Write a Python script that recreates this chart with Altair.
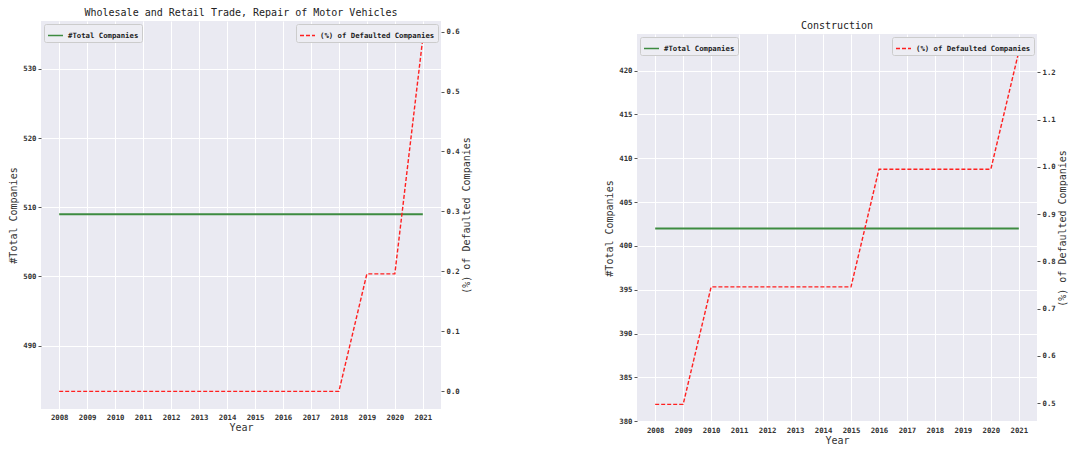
import altair as alt
import pandas as pd

years = list(range(2008, 2022))

wholesale_total = [509] * 14
wholesale_pct = [0.0, 0.0, 0.0, 0.0, 0.0, 0.0, 0.0, 0.0, 0.0, 0.0, 0.0, 0.196, 0.196, 0.589]

construction_total = [402] * 14
construction_pct = [0.4975, 0.4975, 0.746, 0.746, 0.746, 0.746, 0.746, 0.746,
                    0.995, 0.995, 0.995, 0.995, 0.995, 1.244]

TOTAL = "#Total Companies"
PCT = "(%) of Defaulted Companies"
MONO = "DejaVu Sans Mono"

wholesale_ticks_l = [490, 500, 510, 520, 530]
wholesale_ticks_r = [0.0, 0.1, 0.2, 0.3, 0.4, 0.5, 0.6]
construction_ticks_l = [380, 385, 390, 395, 400, 405, 410, 415, 420]
construction_ticks_r = [0.5, 0.6, 0.7, 0.8, 0.9, 1.0, 1.1, 1.2]


def panel(title, total, pct, dom_l, dom_r, ticks_l, ticks_r):
    df = pd.DataFrame({"Year": years, "total": total, "pct": pct,
                       "s1": TOTAL, "s2": PCT})
    x = alt.X("Year:Q", title="Year",
              scale=alt.Scale(domain=[2007.35, 2021.65], nice=False, zero=False),
              axis=alt.Axis(values=years, format="d", ticks=False, labelPadding=4,
                            titlePadding=2))
    base = alt.Chart(df)
    green = base.mark_line(strokeWidth=2, color="#5a9a5e").encode(
        x=x,
        y=alt.Y("total:Q", title=TOTAL,
                scale=alt.Scale(domain=dom_l, nice=False, zero=False),
                axis=alt.Axis(orient="left", values=ticks_l, format="d",
                              titlePadding=4)),
        color=alt.Color("s1:N", scale=alt.Scale(domain=[TOTAL], range=["#3d8b40"]),
                        legend=alt.Legend(orient="top-left", title=None)),
    )
    red = base.mark_line(strokeWidth=1.4).encode(
        x=x,
        y=alt.Y("pct:Q", title=PCT,
                scale=alt.Scale(domain=dom_r, nice=False, zero=False),
                axis=alt.Axis(orient="right", values=ticks_r, format=".1f",
                              titleAngle=270, titleBaseline="top", titlePadding=2)),
        color=alt.Color("s2:N", scale=alt.Scale(domain=[PCT], range=["#ff2020"]),
                        legend=alt.Legend(orient="top-right", title=None)),
        strokeDash=alt.StrokeDash("s2:N",
                                  scale=alt.Scale(domain=[PCT], range=[[4, 2]]),
                                  legend=alt.Legend(orient="top-right", title=None)),
    )
    return alt.layer(green, red).resolve_scale(
        y="independent", color="independent", strokeDash="independent"
    ).properties(width=400, height=388, title=title)


left = panel("Wholesale and Retail Trade, Repair of Motor Vehicles",
             wholesale_total, wholesale_pct, [480.86, 536.9], [-0.0294, 0.6176],
             wholesale_ticks_l, wholesale_ticks_r)
right = panel("Construction",
              construction_total, construction_pct, [379.92, 424.17], [0.4602, 1.281],
              construction_ticks_l, construction_ticks_r)

spacer = alt.Chart(pd.DataFrame({"a": [0]})).mark_point(opacity=0).properties(
    width=400, height=3, view=alt.ViewConfig(fill=None, stroke=None)
)

right_col = alt.vconcat(spacer, right, spacing=-5)

chart = alt.hconcat(left, right_col, spacing=132).properties(
    padding={"left": 0, "top": 0, "right": 0, "bottom": 0}
).configure_view(
    fill="#EAEAF2", stroke=None
).configure_axis(
    grid=True, gridColor="white", gridWidth=1, domain=False,
    labelFont=MONO, labelFontWeight="bold", labelFontSize=7.3, labelColor="#333333",
    tickColor="#555555", tickSize=3, labelPadding=2,
    titleFont=MONO, titleFontSize=10, titleFontWeight="normal", titleColor="#333333",
).configure_title(
    font=MONO, fontSize=10, fontWeight="normal", color="#222222", offset=3
).configure_legend(
    labelFont=MONO, labelFontWeight="bold", labelFontSize=7.3, labelColor="#222222",
    fillColor="#EDEDF3", strokeColor="#cccccc", padding=3, cornerRadius=2, offset=3,
    symbolType="stroke", symbolSize=225, symbolStrokeWidth=1.5,
)

chart.save("out.html", embed_options={"renderer": "svg", "actions": False})
